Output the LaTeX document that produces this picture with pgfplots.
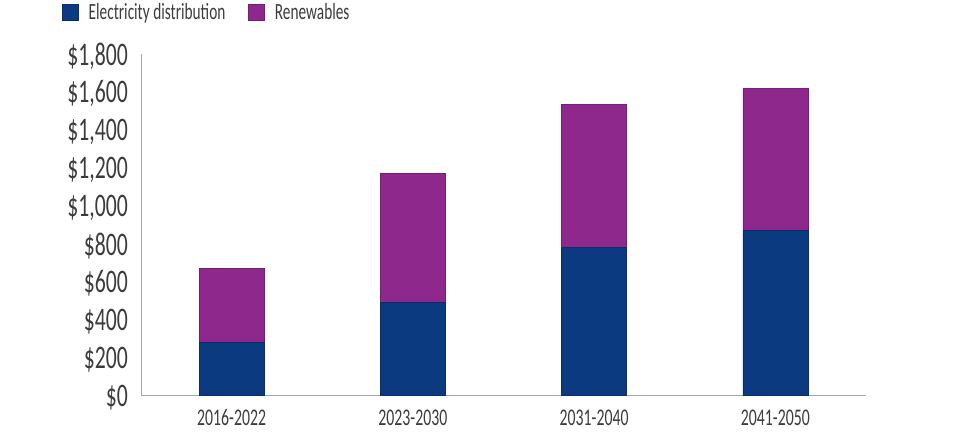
\documentclass[border=0pt]{standalone}
\usepackage{pgfplots}
\pgfplotsset{compat=1.18}
\usepackage{fontspec}
\setmainfont[FakeStretch=0.66]{Carlito}

\definecolor{elecblue}{HTML}{0C3A81}
\definecolor{renpurple}{HTML}{8E288C}
\definecolor{axisgray}{HTML}{A6A6A6}
\definecolor{txtgray}{HTML}{3C3C3C}

\begin{document}
\begin{tikzpicture}
\path[use as bounding box] (0,0) rectangle (966bp,-434bp);
\begin{axis}[
  at={(141bp,-395.3bp)}, anchor=south west,
  width=725bp, height=341.3bp, scale only axis,
  ybar stacked, bar width=65bp,
  xmin=-0.5, xmax=3.5, ymin=0, ymax=1800,
  axis x line*=bottom, axis y line*=left,
  axis line style={axisgray, line width=1bp},
  major tick length=0pt,
  xtick={0,1,2,3},
  xticklabels={2016-2022,2023-2030,2031-2040,2041-2050},
  ytick={0,200,...,1800},
  yticklabels={{\$0},{\$200},{\$400},{\$600},{\$800},{\$1,000},{\$1,200},{\$1,400},{\$1,600},{\$1,800}},
  yticklabel style={font=\fontsize{33}{36}\selectfont, text=txtgray, anchor=east, inner sep=0pt, xshift=-13bp, yshift=-2bp},
  xticklabel style={font=\fontsize{24}{28}\selectfont, text=txtgray, anchor=north, inner sep=0pt, yshift=-14bp},
  legend style={at={(axis description cs:-0.109,1.155)}, anchor=north west, draw=none, fill=none,
    font=\fontsize{23.3}{26}\selectfont, text=txtgray, inner sep=0pt,
    /tikz/every odd column/.append style={column sep=8bp},
    /tikz/every even column/.append style={column sep=21bp}},
  legend columns=2,
  legend image code/.code={\fill[#1] (0bp,-8bp) rectangle (16bp,8bp);},
]
\addplot[fill=elecblue, draw=elecblue!80!black, line width=0.5bp] coordinates {(0,280) (1,490) (2,780) (3,870)};
\addlegendentry{Electricity distribution}
\addplot[fill=renpurple, draw=renpurple!80!black, line width=0.5bp] coordinates {(0,390) (1,680) (2,755) (3,747)};
\addlegendentry{Renewables}
\end{axis}
\end{tikzpicture}
\end{document}
